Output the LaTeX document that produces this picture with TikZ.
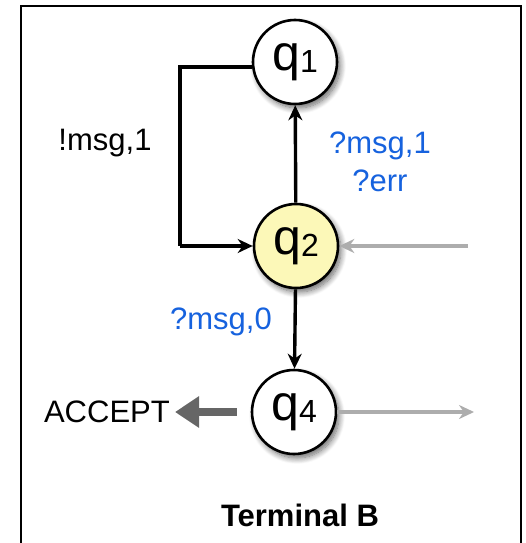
\documentclass[tikz,border=0pt]{standalone}
\usepackage{fontspec}
\setmainfont{Liberation Sans}
\usetikzlibrary{arrows.meta,shadows.blur}
\definecolor{lblblue}{RGB}{22,98,222}
\definecolor{q2fill}{RGB}{252,248,184}
\tikzset{
  state/.style={circle,draw,line width=2.6pt,minimum size=84pt,inner sep=0pt,
    fill=white,blur shadow={shadow xshift=3pt,shadow yshift=-4pt,shadow blur radius=6pt,shadow blur steps=10,shadow opacity=60},
    font=\fontsize{50}{52}\selectfont},
  trans/.style={line width=3.4pt,-{Stealth[length=15pt,width=14pt]}},
  ghost/.style={line width=3.4pt,color=black!32,-{Stealth[length=15pt,width=14pt]}},
  lbl/.style={font=\fontsize{31}{38}\selectfont},
}
\newcommand{\st}[2]{#1\raisebox{-2pt}{\fontsize{32}{34}\selectfont #2}}
\begin{document}
\begin{tikzpicture}[x=1pt,y=-1pt]
  \useasboundingbox (0,0) rectangle (526,543);
  % frame, open at the bottom
  \draw[line width=2.6pt] (21,560) -- (21,6) -- (521,6) -- (521,560);

  \node[state] (q1) at (295,62) {\st{q}{1}};
  \node[state,fill=q2fill] (q2) at (296,246) {\st{q}{2}};
  \node[state] (q4) at (294,412) {\st{q}{4}};

  \coordinate (loopA) at (180,67);
  \coordinate (loopB) at (180,246);
  \coordinate (inR) at (468,246);
  \coordinate (outR) at (474,412);
  \node[lbl,anchor=east,inner sep=2pt] (acc) at (172,412) {ACCEPT};

  \draw[line width=3.4pt] (q1.west |- loopA) -- (loopA) -- (loopB);
  \draw[trans] (loopB) -- (q2.west);
  \draw[trans] (q2) -- (q1);
  \draw[trans] (q2) -- (q4);
  \draw[ghost] (inR) -- (q2.east);
  \draw[ghost] (q4.east) -- (outR);
  \draw[line width=8pt,color=black!60,-{Triangle[length=24pt,width=30pt]}] ([xshift=-14pt]q4.west) -- ([xshift=3pt]acc.east);

  \node[lbl] (l1) at (105,143) {!msg,1};
  \node[lbl,text=lblblue,align=center] (l2) at (380,162) {?msg,1\\?err};
  \node[lbl,text=lblblue] (l3) at (221,322) {?msg,0};
  \node[font=\bfseries\fontsize{31}{36}\selectfont] (title) at (300,515) {Terminal B};
\end{tikzpicture}
\end{document}
